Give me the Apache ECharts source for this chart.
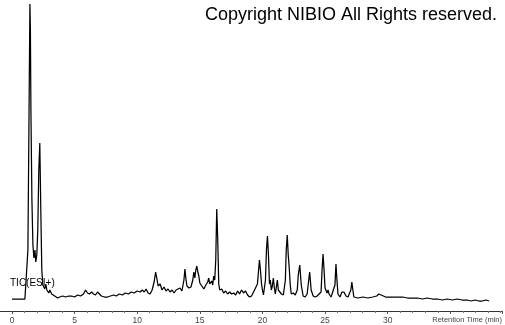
<!DOCTYPE html>
<html>
<head>
<meta charset="utf-8">
<script src="https://cdn.jsdelivr.net/npm/echarts@6/dist/echarts.min.js"></script>
<style>
html,body{margin:0;padding:0;background:#fff;}
#c{width:505px;height:325px;}
</style>
</head>
<body>
<div id="c"></div>
<script>
// Retention time (min)
const times = [
0,1.03,1.07,1.19,1.27,1.35,1.43,1.47,1.51,1.59,1.67,1.75,1.83,1.90,1.98,2.06,2.14,2.22,2.30,2.38,
2.46,2.54,2.62,2.70,2.78,2.94,3.02,3.17,3.41,3.49,3.65,3.81,4.05,4.29,4.52,4.76,5.00,5.24,5.48,5.71,
5.87,6.03,6.19,6.35,6.51,6.67,6.83,6.98,7.14,7.38,7.62,7.86,8.10,8.33,8.57,8.81,9.05,9.29,9.52,9.76,
10.00,10.24,10.40,10.56,10.71,10.87,11.03,11.19,11.35,11.47,11.59,11.67,11.83,11.98,12.14,12.30,12.46,12.62,12.78,12.94,
13.10,13.25,13.41,13.57,13.73,13.81,13.89,13.97,14.05,14.13,14.29,14.44,14.52,14.60,14.68,14.76,14.84,14.92,15.00,15.16,
15.32,15.48,15.63,15.71,15.79,15.95,16.03,16.11,16.19,16.27,16.35,16.43,16.51,16.59,16.75,16.90,17.06,17.22,17.38,17.54,
17.70,17.86,18.02,18.17,18.33,18.49,18.65,18.81,18.97,19.13,19.29,19.44,19.60,19.76,19.84,19.92,20.00,20.08,20.16,20.24,
20.32,20.40,20.48,20.56,20.63,20.71,20.79,20.87,20.95,21.03,21.11,21.19,21.27,21.35,21.51,21.67,21.75,21.83,21.90,21.98,
22.06,22.14,22.22,22.30,22.46,22.62,22.78,22.86,22.98,23.10,23.25,23.41,23.57,23.65,23.77,23.89,24.05,24.21,24.37,24.52,
24.68,24.76,24.84,24.92,25.00,25.16,25.24,25.32,25.48,25.63,25.79,25.87,25.95,26.03,26.19,26.35,26.43,26.51,26.67,26.83,
26.98,27.06,27.14,27.22,27.30,27.62,28.02,28.41,28.81,29.13,29.29,29.44,29.84,30.40,30.79,31.19,31.59,31.98,32.38,32.78,
33.17,33.57,33.97,34.37,34.76,35.16,35.56,35.95,36.35,36.67,36.98,37.30,37.54,37.86,38.10
];
// TIC intensity (relative counts)
const intensity = [
12,12,20,22,61,181,307,281,201,111,66,53,61,49,56,81,141,168,101,41,
26,28,22,27,21,18,21,17,15,14,13,14,15,14,15,15,14,16,15,17,
21,18,17,19,17,16,19,17,15,14,14,15,16,15,17,16,18,17,19,18,
20,19,21,19,22,18,17,21,29,39,31,25,27,21,24,20,22,19,21,18,
21,20,23,20,31,42,32,25,27,23,24,31,39,33,41,45,39,35,28,25,
22,26,29,33,27,30,26,35,31,51,102,71,27,21,22,18,20,17,19,17,
18,16,20,17,21,18,20,16,14,15,19,18,27,51,41,28,21,16,18,31,
61,75,56,27,31,21,25,33,23,17,24,31,21,23,17,16,18,31,61,76,
56,43,26,17,18,16,21,36,46,26,15,14,17,26,39,21,15,14,15,14,
19,41,57,41,23,18,21,17,14,15,26,47,31,17,14,19,21,19,15,14,
15,21,29,21,14,13,14,13,14,15,17,15,14,14,14,14,13,13,13,12,
13,12,12,11,12,11,12,11,11,10,11,10,10,11,10
];
const xTicks = [0, 5, 10, 15, 20, 25, 30];

const chart = echarts.init(document.getElementById('c'), null, {renderer: 'canvas'});
const data = times.map((t, i) => [t, intensity[i]]);

chart.setOption({
  animation: false,
  backgroundColor: '#ffffff',
  grid: {left: 12, right: 0, top: 3, bottom: 14},
  xAxis: {
    type: 'value',
    min: 0,
    max: 39.13,
    interval: 5,
    splitLine: {show: false},
    axisLine: {show: true, lineStyle: {color: '#333', width: 1}},
    axisTick: {show: true, length: 3, lineStyle: {color: '#555'}},
    minorTick: {show: true, splitNumber: 5, length: 2, lineStyle: {color: '#777'}},
    axisLabel: {
      show: true,
      margin: 5,
      fontSize: 8.5,
      color: '#444',
      fontFamily: 'Liberation Sans, Arial, sans-serif',
      formatter: function (v) { return xTicks.indexOf(v) >= 0 ? String(v) : ''; }
    }
  },
  yAxis: {
    type: 'value',
    min: 0,
    max: 308,
    show: false
  },
  series: [{
    type: 'line',
    data: data,
    showSymbol: false,
    symbol: 'none',
    lineStyle: {color: '#000', width: 1.25},
    silent: true
  }],
  graphic: [
    {
      type: 'text',
      right: 8,
      top: 6,
      style: {
        text: 'Copyright NIBIO All Rights reserved.',
        font: '18px "Liberation Sans", Arial, sans-serif',
        fill: '#000'
      }
    },
    {
      type: 'text',
      left: 10,
      top: 278,
      style: {
        text: 'TIC(ESI+)',
        font: '10px "Liberation Sans", Arial, sans-serif',
        fill: '#000'
      }
    },
    {
      type: 'text',
      right: 3,
      top: 316,
      style: {
        text: 'Retention Time (min)',
        font: '7.5px "Liberation Sans", Arial, sans-serif',
        fill: '#444'
      }
    },
    {
      type: 'line',
      shape: {x1: 0, y1: 311.5, x2: 12, y2: 311.5},
      style: {stroke: '#333', lineWidth: 1}
    }
  ]
});
</script>
</body>
</html>
